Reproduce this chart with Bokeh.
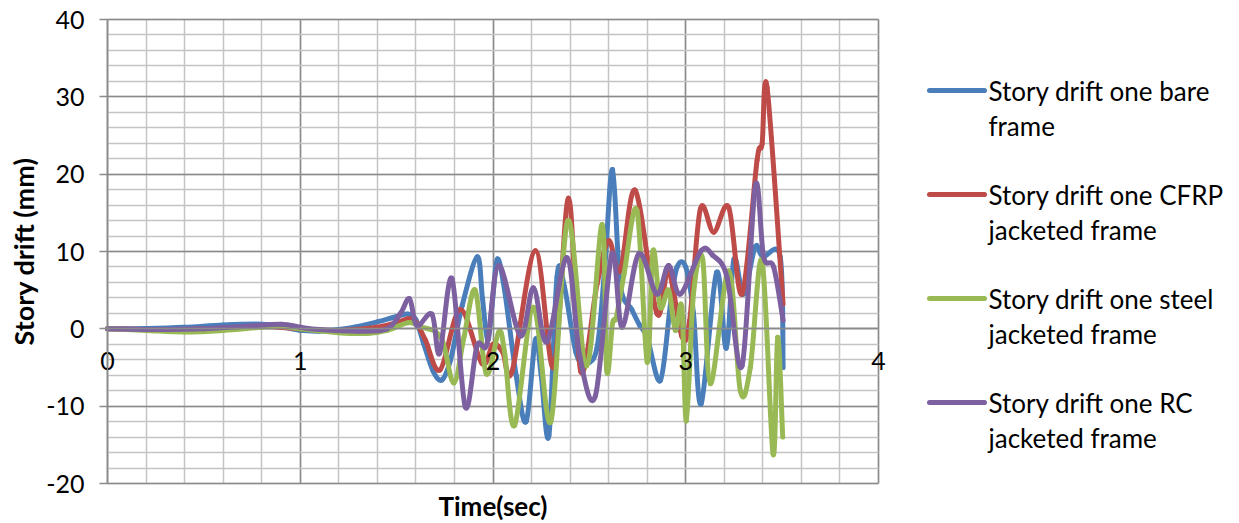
from bokeh.plotting import figure
from bokeh.layouts import row
from bokeh.models import SingleIntervalTicker, Range1d, Label, PrintfTickFormatter
from bokeh.embed import file_html
from bokeh.resources import INLINE
from bokeh.core.properties import value

# ---------------- data ----------------
time_bare = [0, 0.2, 0.4, 0.6, 0.8, 0.9, 1.0, 1.1, 1.2, 1.3, 1.4, 1.5, 1.56, 1.6, 1.64,
             1.69, 1.735, 1.78, 1.84, 1.918, 1.945, 1.972, 1.995, 2.022, 2.06, 2.12, 2.172,
             2.22, 2.25, 2.29, 2.332, 2.37, 2.43, 2.48, 2.54, 2.58, 2.62, 2.66, 2.72, 2.76,
             2.80, 2.868, 2.92, 2.955, 3.0, 3.04, 3.08, 3.16, 3.21, 3.25, 3.30, 3.36, 3.40,
             3.49, 3.505]
drift_bare = [0, 0.05, 0.2, 0.5, 0.6, 0.3, -0.2, -0.3, -0.1, 0.3, 0.9, 1.6, 1.9, 1.2, -1.9,
              -5.5, -6.6, -4.0, 3.0, 9.3, 4.0, -1.5, 3.0, 9.0, 5.0, -6.0, -12.0,
              -1.4, -6.0, -13.8, 6.7, 5.5, -3.0, -4.5, -2.4, 8.0, 20.6, 5.8, 2.5, 0.5,
              -1.1, -6.7, 3.0, 8.0, 8.0, 2.0, -9.7, 7.3, -2.5, 9.0, 4.5, 10.6, 9.3,
              9.3, -5.0]

time_cfrp = [0, 0.3, 0.6, 0.8, 1.0, 1.2, 1.4, 1.5, 1.56, 1.6, 1.65, 1.726, 1.83, 1.943,
             2.0, 2.05, 2.099, 2.22, 2.315, 2.392, 2.455, 2.54, 2.6, 2.66, 2.738, 2.85,
             2.91, 2.98, 3.02, 3.076, 3.145, 3.223, 3.292, 3.37, 3.396, 3.422, 3.505]
drift_cfrp = [0, -0.1, 0.1, 0.3, 0.0, -0.2, 0.2, 0.8, 1.3, 0.9, -1.5, -5.3, 2.5, -4.5,
              -2.0, -3.0, -5.5, 10.1, -5.0, 16.9, -5.5, 5.8, 11.4, 7.5, 17.9, 2.0,
              7.5, -1.0, 1.0, 15.5, 12.5, 15.7, 4.5, 21.8, 23.9, 31.2, 3.2]

time_steel = [0, 0.2, 0.4, 0.6, 0.8, 0.9, 1.0, 1.2, 1.35, 1.45, 1.56, 1.62, 1.73, 1.796,
              1.85, 1.908, 1.965, 2.03, 2.06, 2.112, 2.21, 2.30, 2.388, 2.485, 2.566, 2.59,
              2.62, 2.64, 2.68, 2.747, 2.80, 2.83, 2.868, 2.911, 2.946, 2.98, 3.003, 3.04,
              3.088, 3.128, 3.223, 3.283, 3.335, 3.396, 3.453, 3.477, 3.503]
drift_steel = [0, -0.2, -0.4, -0.2, 0.2, 0.3, 0.0, -0.5, -0.6, -0.2, 0.8, 0.3, -1.1, -7.0,
               -1.0, 5.0, -5.8, -0.4, -3.0, -12.5, 2.8, -12.0, 14.0, -4.8, 13.5, -5.4,
               0.7, 1.5, 7.1, 15.3, -4.3, 10.1, 2.8, 5.0, -0.2, 2.8, -11.9, 4.5,
               9.0, -7.1, 7.5, -8.0, -5.0, 8.8, -16.2, -1.1, -14.0]

time_rc = [0, 0.3, 0.5, 0.7, 0.9, 1.0, 1.1, 1.3, 1.45, 1.52, 1.567, 1.605, 1.683, 1.723,
           1.787, 1.856, 1.917, 1.97, 2.03, 2.142, 2.21, 2.28, 2.384, 2.45, 2.531, 2.617,
           2.67, 2.756, 2.85, 2.911, 2.972, 3.08, 3.14, 3.214, 3.292, 3.361, 3.404,
           3.456, 3.505]
drift_rc = [0, -0.1, 0.0, 0.3, 0.6, 0.2, -0.1, -0.3, 0.0, 2.0, 3.9, 0.4, 1.9, -3.2,
            6.5, -10.1, -2.2, -1.9, 8.2, -0.9, 5.3, -1.7, 9.2, -3.5, -8.7, 9.7,
            0.2, 9.7, 4.5, 8.2, 4.5, 10.1, 9.5, 6.7, -4.8, 18.5, 9.3,
            8.0, 1.1]

series_labels = ["Story drift one  bare\nframe",
                 "Story drift one CFRP\njacketed frame",
                 "Story drift one steel\njacketed frame",
                 "Story drift one RC\njacketed frame"]
series_colors = ["#4A7EBB", "#BE4B48", "#98B954", "#7D60A0"]
x_min, x_max, x_major = 0, 4, 1
y_min, y_max, y_major = -20, 40, 10
x_title = "Time(sec)"
y_title = "Story drift (mm)"

FONT = "Lato"
MAJOR_GRID = "#8a8a8a"
MINOR_GRID = "#c4c4c4"
TICK_FS = "25px"
TITLE_FS = "27px"

# ---------------- layout (pixels) ----------------
W, H = 900, 523                 # main figure; its frame fills it entirely
PX_X0, PX_X1 = 107, 878         # where x_min / x_max sit
PX_Y1, PX_Y0 = 19, 483          # where y_max / y_min sit
ux = (x_max - x_min) / (PX_X1 - PX_X0)
uy = (y_max - y_min) / (PX_Y0 - PX_Y1)
xr = Range1d(x_min - PX_X0 * ux, x_min + (W - PX_X0) * ux)
yr = Range1d(y_min - (H - PX_Y0) * uy, y_max + PX_Y1 * uy)


def smoothed(t, d):
    """Bezier control points (Excel-style smoothed line) through the read points."""
    n = len(t)
    out = dict(x0=[], y0=[], x1=[], y1=[], cx0=[], cy0=[], cx1=[], cy1=[])
    for i in range(n - 1):
        a = i - 1 if i > 0 else i
        b = i + 2 if i + 2 < n else i + 1
        out["x0"].append(t[i]); out["y0"].append(d[i])
        out["x1"].append(t[i + 1]); out["y1"].append(d[i + 1])
        out["cx0"].append(t[i] + (t[i + 1] - t[a]) / 6)
        out["cy0"].append(d[i] + (d[i + 1] - d[a]) / 6)
        out["cx1"].append(t[i + 1] - (t[b] - t[i]) / 6)
        out["cy1"].append(d[i + 1] - (d[b] - d[i]) / 6)
    return out


p = figure(width=W, height=H, x_range=xr, y_range=yr, title=None,
           output_backend="svg", toolbar_location=None, min_border=0,
           background_fill_color="white", border_fill_color="white")
p.outline_line_color = None

xt = SingleIntervalTicker(interval=x_major, num_minor_ticks=5)
yt = SingleIntervalTicker(interval=y_major, num_minor_ticks=5)
p.xgrid.ticker = xt
p.ygrid.ticker = yt
p.xgrid.bounds = (x_min, x_max)
p.ygrid.bounds = (y_min, y_max)
if "cross_bounds" in p.xgrid.properties():
    p.xgrid.cross_bounds = (y_min, y_max)
    p.ygrid.cross_bounds = (x_min, x_max)
for g in (p.xgrid, p.ygrid):
    g.grid_line_color = MAJOR_GRID
    g.grid_line_width = 1.5
    g.minor_grid_line_color = MINOR_GRID
    g.minor_grid_line_width = 1.5

# x axis crossing at y = 0
xa = p.xaxis[0]
xa.ticker = xt
xa.fixed_location = 0
xa.bounds = (x_min, x_max)
xa.axis_line_color = MAJOR_GRID
xa.axis_line_width = 1.5
xa.major_tick_out = 0
xa.major_tick_in = 0
xa.minor_tick_out = 0
xa.minor_tick_in = 0
xa.major_label_standoff = 23
xa.major_label_text_font = FONT
xa.major_label_text_font_size = TICK_FS
xa.major_label_text_color = "black"

# y axis at x = 0
ya = p.yaxis[0]
ya.ticker = yt
ya.fixed_location = 0
ya.bounds = (y_min, y_max)
ya.formatter = PrintfTickFormatter(format="%d")
ya.axis_line_color = MAJOR_GRID
ya.axis_line_width = 1.5
ya.major_tick_out = 8
ya.major_tick_in = 0
ya.major_tick_line_color = MAJOR_GRID
ya.major_tick_line_width = 1.5
ya.minor_tick_out = 0
ya.minor_tick_in = 0
ya.major_label_standoff = 15
ya.major_label_text_font = FONT
ya.major_label_text_font_size = TICK_FS
ya.major_label_text_color = "black"
ya.axis_label = y_title
ya.axis_label_text_font = FONT
ya.axis_label_text_font_style = "bold"
ya.axis_label_text_font_size = TITLE_FS
ya.axis_label_text_color = "black"
ya.axis_label_standoff = 3

# x axis title under the plot area
p.add_layout(Label(x=(x_min + x_max) / 2, y=y_min, y_offset=-22, text=x_title,
                   text_align="center", text_baseline="middle", text_font=FONT,
                   text_font_style="bold", text_font_size="26px", text_color="black"))

series = [(time_bare, drift_bare), (time_cfrp, drift_cfrp),
          (time_steel, drift_steel), (time_rc, drift_rc)]
for (t, d), c in zip(series, series_colors):
    p.bezier(source=smoothed(t, d), x0="x0", y0="y0", x1="x1", y1="y1",
             cx0="cx0", cy0="cy0", cx1="cx1", cy1="cy1",
             line_width=5, line_color=c, line_cap="round")

# ---------------- legend panel ----------------
LW, LH = 1239 - W, H
lg = figure(width=LW, height=LH, x_range=Range1d(0, LW), y_range=Range1d(LH, 0),
            output_backend="svg", toolbar_location=None, x_axis_type=None,
            y_axis_type=None, min_border=0, outline_line_color=None, title=None,
            background_fill_color="white", border_fill_color="white")
entry_y0, entry_step, line_gap = 90, 104, 35
ys = [entry_y0 + i * entry_step for i in range(len(series_labels))]
lg.segment(x0=[29] * 4, y0=ys, x1=[84] * 4, y1=ys, line_color=series_colors,
           line_width=5, line_cap="round")
first = [s.split("\n")[0] for s in series_labels]
second = [s.split("\n")[1] for s in series_labels]
lg.text(x=[88] * 4, y=ys, text=first, text_font=value(FONT), text_font_size="26px",
        text_baseline="middle", text_align="left", text_color="black")
lg.text(x=[88] * 4, y=[y + line_gap for y in ys], text=second, text_font=value(FONT),
        text_font_size="26px", text_baseline="middle", text_align="left",
        text_color="black")

layout = row(p, lg)
open("out.html", "w").write(file_html(layout, INLINE))
